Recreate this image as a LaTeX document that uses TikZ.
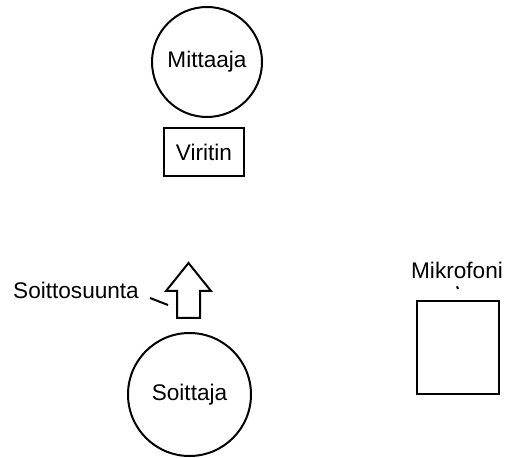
\documentclass[tikz,border=0pt]{standalone}
\usepackage{fontspec}
\setmainfont{Liberation Sans}
\usetikzlibrary{positioning}

\begin{document}
\begin{tikzpicture}[x=0.5pt,y=-0.5pt,line width=1pt,line join=miter]

	\tikzstyle{every node}=[font=\fontsize{11.3}{13}\selectfont]

	\tikzstyle{henkilo}=[circle,draw,inner sep=0pt]
	\tikzstyle{laite}=[rectangle,draw,inner sep=0pt]
	\tikzstyle{nimi}=[inner sep=0pt]

	\useasboundingbox (0,0) rectangle (508,458);

	\node[henkilo,minimum size=55pt] (mittaaja) at (207,62) {Mittaaja};
	\node[laite,minimum width=40pt,minimum height=24pt] (viritin) [below=4.5pt of mittaaja,xshift=-1.5pt] {Viritin};

	\node[henkilo,minimum size=61.5pt] (soittaja) at (189.5,394.5) {Soittaja};

	% soittosuunta
	\coordinate (suunta) at (188.5,318);
	\draw (suunta) ++(-11.5,0) -- ++(0,-27) -- ++(-11,0) -- ++(22.5,-28)
		-- ++(22.5,28) -- ++(-11,0) -- ++(0,27) -- cycle;
	\node[nimi] (soittosuunta) at (76,290) {Soittosuunta};
	\coordinate (vipu) at (150,298);
	\coordinate (kahva) at (168,305);
	\draw (vipu) -- (kahva);

	\node[laite,minimum width=41pt,minimum height=46.5pt] (mikrofoni) at (458,347.5) {};
	\node[nimi] (mikrofoni-nimi) at (457,270) {Mikrofoni};
	\draw ([yshift=-3.5pt]mikrofoni-nimi.south) -- ([yshift=5.5pt]mikrofoni.north);

\end{tikzpicture}
\end{document}
